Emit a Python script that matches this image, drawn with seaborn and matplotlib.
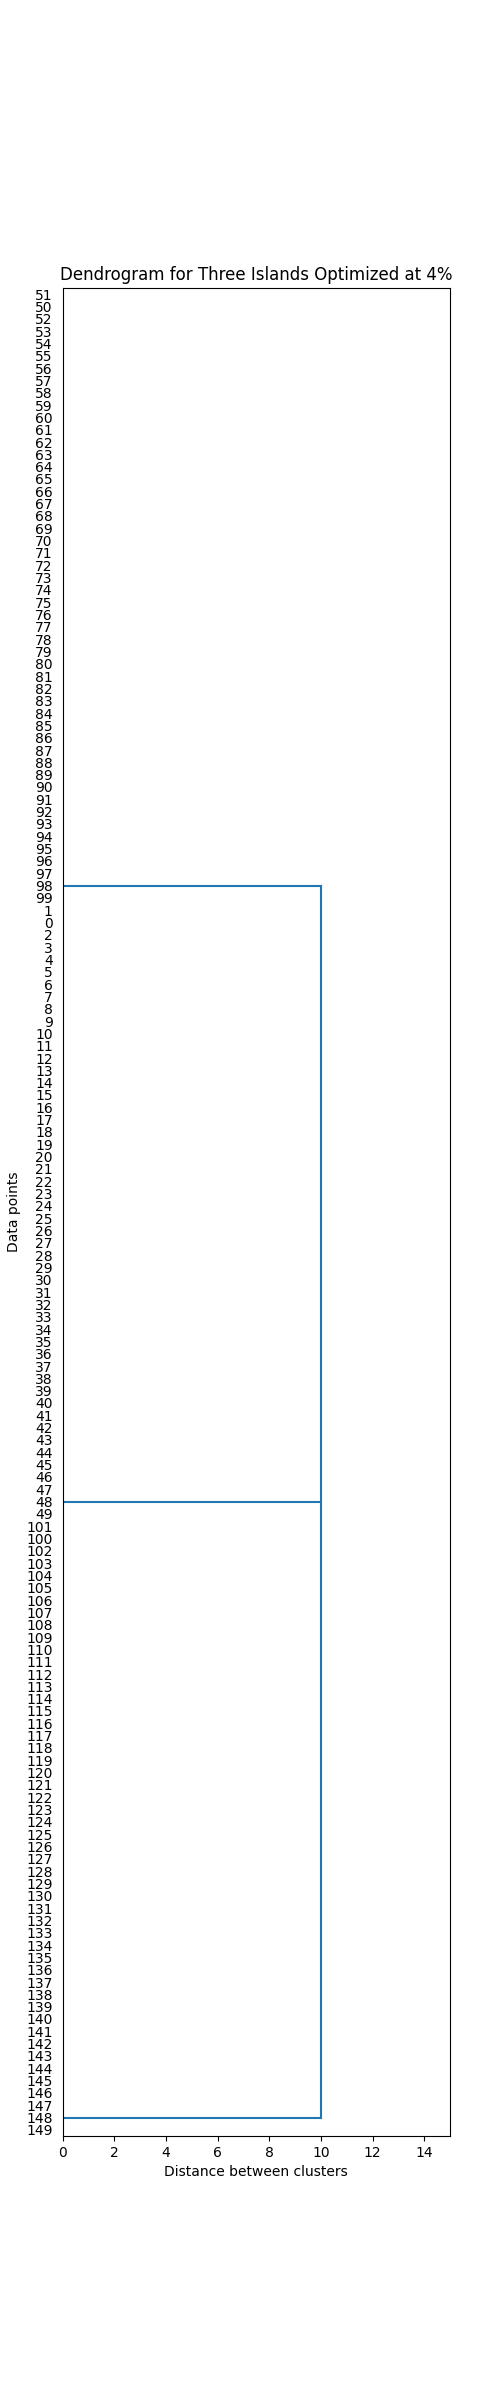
import matplotlib
matplotlib.use("Agg")
import matplotlib.pyplot as plt
import seaborn as sns
import pandas as pd

# Leaf order (top to bottom)
leaf_labels = [
    51, 50, 52, 53, 54, 55, 56, 57, 58, 59, 60, 61, 62, 63, 64, 65, 66, 67, 68, 69,
    70, 71, 72, 73, 74, 75, 76, 77, 78, 79, 80, 81, 82, 83, 84, 85, 86, 87, 88, 89,
    90, 91, 92, 93, 94, 95, 96, 97, 98, 99,
    1, 0, 2, 3, 4, 5, 6, 7, 8, 9, 10, 11, 12, 13, 14, 15, 16, 17, 18, 19,
    20, 21, 22, 23, 24, 25, 26, 27, 28, 29, 30, 31, 32, 33, 34, 35, 36, 37, 38, 39,
    40, 41, 42, 43, 44, 45, 46, 47, 48, 49,
    101, 100, 102, 103, 104, 105, 106, 107, 108, 109, 110, 111, 112, 113, 114, 115,
    116, 117, 118, 119, 120, 121, 122, 123, 124, 125, 126, 127, 128, 129, 130, 131,
    132, 133, 134, 135, 136, 137, 138, 139, 140, 141, 142, 143, 144, 145, 146, 147,
    148, 149,
]

# Cluster link anchor leaves (where each island joins) and merge distance
cluster_anchor_leaves = [98, 48, 148]
cluster_heights = [0.0, 0.0, 0.0]
merge_height = 10.0

# Build link segments (in scipy-dendrogram style coordinates: leaf i at 5 + 10*i)
pos = {lab: 5 + 10 * i for i, lab in enumerate(leaf_labels)}
rows = []
seg = 0
anchor_y = [pos[a] for a in cluster_anchor_leaves]
# horizontal arms from each island to the merge height
for y, h in zip(anchor_y, cluster_heights):
    rows.append((seg, h, y)); rows.append((seg, merge_height, y)); seg += 1
# vertical connector at the merge height
rows.append((seg, merge_height, min(anchor_y))); rows.append((seg, merge_height, max(anchor_y)))
df = pd.DataFrame(rows, columns=["seg", "x", "y"])

fig, ax = plt.subplots(figsize=(5, 24), dpi=100)
sns.lineplot(data=df, x="x", y="y", units="seg", estimator=None, sort=False,
             color="#1f77b4", linewidth=1.5, ax=ax, legend=False)

n = len(leaf_labels)
ax.set_ylim(10 * n, 0)
ax.set_xlim(0, 15)
ax.set_yticks([5 + 10 * i for i in range(n)])
ax.set_yticklabels([str(l) for l in leaf_labels], fontsize=10)
for t in ax.get_yticklines():
    t.set_visible(False)
ax.set_xticks([0, 2, 4, 6, 8, 10, 12, 14])
ax.set_title("Dendrogram for Three Islands Optimized at 4%")
ax.set_xlabel("Distance between clusters")
ax.set_ylabel("Data points")

fig.savefig("out.png", dpi=100)
